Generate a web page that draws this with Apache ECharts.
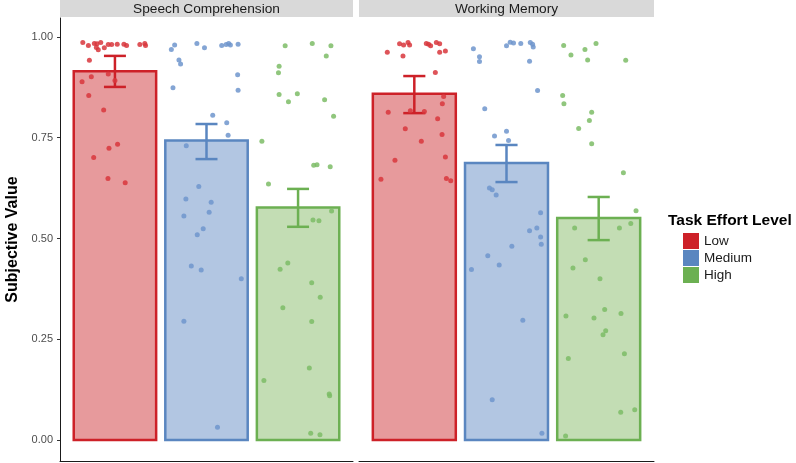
<!DOCTYPE html>
<html>
<head>
<meta charset="utf-8">
<script src="https://cdn.jsdelivr.net/npm/echarts@6/dist/echarts.min.js"></script>
<style>
  html, body { margin: 0; padding: 0; background: #fff; }
  #chart { width: 796px; height: 463px; }
</style>
</head>
<body>
<div id="chart"></div>
<script>
// facets and effort levels
const panels = ['Speech Comprehension', 'Working Memory']
const levels = ['Low', 'Medium', 'High']
const yTicks = [0, 0.25, 0.5, 0.75, 1]

// mean subjective value per panel / level
const speechMeans = [0.915, 0.743, 0.577]
const memoryMeans = [0.859, 0.687, 0.551]
// error bar limits
const speechErrLow = [0.876, 0.697, 0.529]
const speechErrHigh = [0.953, 0.784, 0.623]
const memoryErrLow = [0.811, 0.640, 0.496]
const memoryErrHigh = [0.903, 0.732, 0.603]

// jittered participant points: [x position (1=Low,2=Medium,3=High), value]
const speechLowPts = [
  [0.649, 0.986], [0.710, 0.979], [0.775, 0.984], [0.804, 0.983], [0.845, 0.986],
  [0.797, 0.974], [0.818, 0.968], [0.884, 0.973], [0.927, 0.981], [0.964, 0.981],
  [1.025, 0.982], [1.098, 0.982], [1.127, 0.979], [1.272, 0.981], [1.326, 0.984],
  [1.334, 0.979], [0.721, 0.942], [0.641, 0.889], [0.742, 0.901], [0.927, 0.908],
  [1.000, 0.892], [0.714, 0.855], [0.877, 0.819], [0.935, 0.724], [1.029, 0.734],
  [0.768, 0.701], [0.924, 0.649], [1.112, 0.638]
]
const speechMedPts = [
  [1.616, 0.969], [1.652, 0.980], [1.895, 0.984], [1.978, 0.973], [2.166, 0.979],
  [2.214, 0.981], [2.242, 0.984], [2.261, 0.980], [2.345, 0.982], [1.699, 0.943],
  [1.717, 0.933], [2.340, 0.906], [1.634, 0.874], [2.345, 0.868], [2.068, 0.806],
  [2.221, 0.787], [2.236, 0.756], [1.779, 0.730], [1.916, 0.629], [1.775, 0.598],
  [2.051, 0.590], [2.029, 0.565], [1.753, 0.556], [1.964, 0.524], [1.899, 0.509],
  [1.834, 0.432], [1.942, 0.422], [2.380, 0.400], [1.753, 0.295], [2.120, 0.032]
]
const speechHighPts = [
  [2.859, 0.978], [3.155, 0.984], [3.359, 0.978], [3.308, 0.953], [2.793, 0.927],
  [2.786, 0.911], [2.793, 0.857], [2.895, 0.839], [2.992, 0.859], [3.290, 0.844],
  [3.388, 0.803], [2.605, 0.741], [3.171, 0.682], [3.207, 0.683], [3.351, 0.678],
  [2.677, 0.635], [3.366, 0.568], [3.163, 0.546], [3.228, 0.544], [2.804, 0.424],
  [2.888, 0.439], [3.149, 0.390], [3.242, 0.354], [2.834, 0.328], [3.149, 0.294],
  [3.123, 0.179], [2.627, 0.148], [3.340, 0.114], [3.345, 0.110], [3.138, 0.017],
  [3.239, 0.013]
]
const memoryLowPts = [
  [0.707, 0.962], [0.840, 0.983], [0.884, 0.980], [0.932, 0.986], [0.949, 0.980],
  [0.877, 0.953], [1.130, 0.984], [1.155, 0.982], [1.177, 0.978], [1.239, 0.986],
  [1.275, 0.983], [1.275, 0.962], [1.337, 0.965], [1.228, 0.912], [1.318, 0.852],
  [1.304, 0.834], [0.717, 0.813], [0.957, 0.817], [1.109, 0.815], [1.253, 0.797],
  [0.902, 0.772], [1.301, 0.758], [1.076, 0.741], [1.337, 0.702], [0.790, 0.694],
  [0.638, 0.647], [1.348, 0.649], [1.395, 0.643]
]
const memoryMedPts = [
  [1.641, 0.971], [1.707, 0.951], [1.707, 0.939], [2.000, 0.978], [2.040, 0.987],
  [2.076, 0.985], [2.155, 0.984], [2.258, 0.986], [2.283, 0.982], [2.290, 0.975],
  [2.250, 0.940], [2.337, 0.867], [1.764, 0.822], [2.000, 0.766], [1.870, 0.754],
  [2.022, 0.743], [1.815, 0.625], [1.845, 0.621], [1.888, 0.608], [2.370, 0.564],
  [2.329, 0.526], [2.250, 0.519], [2.370, 0.504], [2.377, 0.486], [2.058, 0.481],
  [1.797, 0.457], [1.921, 0.434], [1.620, 0.423], [2.177, 0.297], [1.845, 0.100],
  [2.384, 0.017]
]
const memoryHighPts = [
  [2.620, 0.979], [2.699, 0.955], [2.851, 0.969], [2.880, 0.943], [2.971, 0.984],
  [3.293, 0.942], [2.609, 0.855], [2.623, 0.834], [2.924, 0.813], [2.899, 0.793],
  [2.783, 0.773], [2.924, 0.735], [3.268, 0.663], [3.405, 0.569], [2.739, 0.526],
  [3.225, 0.526], [3.348, 0.537], [2.855, 0.447], [2.721, 0.427], [3.014, 0.400],
  [2.645, 0.308], [3.065, 0.324], [2.949, 0.303], [3.242, 0.314], [3.076, 0.271],
  [3.047, 0.261], [3.279, 0.214], [2.671, 0.202], [3.239, 0.069], [3.391, 0.075],
  [2.641, 0.010]
]

const means = [speechMeans, memoryMeans]
const errLow = [speechErrLow, memoryErrLow]
const errHigh = [speechErrHigh, memoryErrHigh]
const points = [
  [speechLowPts, speechMedPts, speechHighPts],
  [memoryLowPts, memoryMedPts, memoryHighPts]
]

const strokeColors = ['#cd2128', '#5a86c0', '#6cb052']
const fillColors = ['#e79a9c', '#b2c6e2', '#c3ddb4']
const dotColors = ['#d8363c', '#6e95cd', '#7dbc66']
const font = "'Liberation Sans', Arial, sans-serif"

const grids = [
  { left: 60, top: 18, width: 293, height: 443 },
  { left: 359, top: 18, width: 295, height: 443 }
]

const xAxes = grids.map((g, i) => ({
  type: 'value',
  gridIndex: i,
  min: 0.4,
  max: 3.6,
  axisLine: { show: true, onZero: false, lineStyle: { color: '#1a1a1a', width: 1 } },
  axisTick: { show: false },
  axisLabel: { show: false },
  splitLine: { show: false }
}))

const yAxes = grids.map((g, i) => ({
  type: 'value',
  gridIndex: i,
  min: -0.052,
  max: 1.047,
  name: i === 0 ? 'Subjective Value' : '',
  nameLocation: 'middle',
  nameGap: 39,
  nameTextStyle: { fontFamily: font, fontSize: 16, fontWeight: 'bold', color: '#000' },
  axisLine: { show: i === 0, onZero: false, lineStyle: { color: '#1a1a1a', width: 1 } },
  axisTick: { show: i === 0, length: 3, customValues: yTicks, lineStyle: { color: '#333' } },
  axisLabel: {
    show: i === 0,
    customValues: yTicks,
    margin: 7,
    fontFamily: font,
    fontSize: 11,
    color: '#4d4d4d',
    formatter: v => v.toFixed(2)
  },
  splitLine: { show: false }
}))

const series = []
panels.forEach((panel, p) => {
  levels.forEach((level, l) => {
    // bar
    series.push({
      name: level,
      type: 'custom',
      xAxisIndex: p,
      yAxisIndex: p,
      itemStyle: { color: strokeColors[l] },
      data: [[l + 1, means[p][l]]],
      renderItem: (params, api) => {
        const a = api.coord([api.value(0) - 0.45, api.value(1)])
        const b = api.coord([api.value(0) + 0.45, 0])
        return {
          type: 'rect',
          shape: { x: a[0], y: a[1], width: b[0] - a[0], height: b[1] - a[1] },
          style: { fill: fillColors[l], stroke: strokeColors[l], lineWidth: 2.5 }
        }
      }
    })
    // error bar
    series.push({
      name: level,
      type: 'custom',
      xAxisIndex: p,
      yAxisIndex: p,
      data: [[l + 1, errLow[p][l], errHigh[p][l]]],
      renderItem: (params, api) => {
        const x = api.value(0)
        const lo = api.coord([x, api.value(1)])
        const hi = api.coord([x, api.value(2)])
        const l0 = api.coord([x - 0.12, api.value(1)])
        const r0 = api.coord([x + 0.12, api.value(1)])
        const l1 = api.coord([x - 0.12, api.value(2)])
        const r1 = api.coord([x + 0.12, api.value(2)])
        const style = { stroke: strokeColors[l], lineWidth: 2.5 }
        return {
          type: 'group',
          children: [
            { type: 'line', shape: { x1: lo[0], y1: lo[1], x2: hi[0], y2: hi[1] }, style },
            { type: 'line', shape: { x1: l0[0], y1: l0[1], x2: r0[0], y2: r0[1] }, style },
            { type: 'line', shape: { x1: l1[0], y1: l1[1], x2: r1[0], y2: r1[1] }, style }
          ]
        }
      }
    })
    // jittered points
    series.push({
      name: level,
      type: 'scatter',
      xAxisIndex: p,
      yAxisIndex: p,
      symbolSize: 5,
      itemStyle: { color: dotColors[l], opacity: 0.85 },
      data: points[p][l],
      z: 5
    })
  })
})

const chart = echarts.init(document.getElementById('chart'), null, { renderer: 'canvas' })
chart.setOption({
  animation: false,
  grid: grids,
  xAxis: xAxes,
  yAxis: yAxes,
  legend: {
    orient: 'vertical',
    left: 683,
    top: 233,
    padding: 0,
    itemWidth: 16,
    itemHeight: 16,
    itemGap: 1,
    icon: 'rect',
    selectedMode: false,
    textStyle: { fontFamily: font, fontSize: 13.5, color: '#1a1a1a' },
    data: levels.map((name, i) => ({ name, itemStyle: { color: strokeColors[i] } }))
  },
  graphic: [
    { type: 'rect', left: 60, top: 0, shape: { width: 293, height: 17 }, style: { fill: '#d9d9d9' } },
    { type: 'rect', left: 359, top: 0, shape: { width: 295, height: 17 }, style: { fill: '#d9d9d9' } },
    {
      type: 'text', x: 206.5, y: 9,
      style: { text: panels[0], font: '13.7px ' + font, fill: '#1a1a1a', textAlign: 'center', textVerticalAlign: 'middle' }
    },
    {
      type: 'text', x: 506.5, y: 9,
      style: { text: panels[1], font: '13.7px ' + font, fill: '#1a1a1a', textAlign: 'center', textVerticalAlign: 'middle' }
    },
    {
      type: 'text', x: 668, y: 221,
      style: { text: 'Task Effort Level', font: 'bold 15.5px ' + font, fill: '#000', textVerticalAlign: 'middle' }
    }
  ],
  series
})
</script>
</body>
</html>
